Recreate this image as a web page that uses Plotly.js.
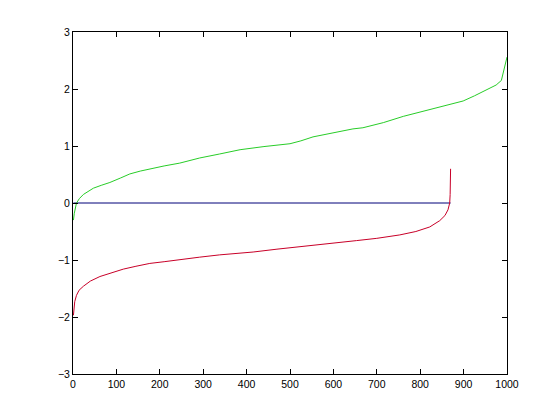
<!DOCTYPE html>
<html>
<head>
<meta charset="utf-8">
<script src="https://cdn.plot.ly/plotly-3.0.1.min.js"></script>
<style>html,body{margin:0;padding:0;background:#fff;}#chart{width:560px;height:420px;}</style>
</head>
<body>
<div id="chart"></div>
<script>
// Green series (upper sorted curve)
var greenX = [1, 3, 8, 15, 24, 35, 47, 65, 85, 110, 131, 155, 177, 210, 246, 292, 338, 385, 440, 500, 525, 553, 599, 645, 668, 715, 761, 800, 830, 870, 899, 925, 952, 975, 987, 993, 1000];
var greenY = [-0.30, -0.18, 0.00, 0.08, 0.15, 0.21, 0.26, 0.31, 0.36, 0.44, 0.51, 0.56, 0.60, 0.65, 0.70, 0.79, 0.86, 0.935, 0.99, 1.04, 1.09, 1.16, 1.23, 1.30, 1.32, 1.41, 1.52, 1.60, 1.66, 1.73, 1.79, 1.88, 1.98, 2.07, 2.15, 2.35, 2.56];
// Red series (lower sorted curve)
var redX = [1, 2, 4, 8, 14, 24, 40, 62, 90, 116, 145, 177, 210, 246, 292, 338, 415, 470, 523, 590, 653, 700, 753, 790, 822, 845, 857, 864, 868, 869, 870];
var redY = [-1.97, -1.90, -1.73, -1.62, -1.53, -1.46, -1.37, -1.29, -1.22, -1.16, -1.11, -1.06, -1.03, -0.99, -0.95, -0.91, -0.86, -0.81, -0.77, -0.71, -0.66, -0.62, -0.56, -0.50, -0.42, -0.31, -0.22, -0.12, 0.00, 0.15, 0.60];
// Blue reference line
var blueX = [1, 870];
var blueY = [0, 0];

var traces = [
  {x: blueX, y: blueY, mode: 'lines', line: {color: 'rgb(0,0,120)', width: 1}, hoverinfo: 'skip'},
  {x: greenX, y: greenY, mode: 'lines', line: {color: 'rgb(40,205,40)', width: 1}},
  {x: redX, y: redY, mode: 'lines', line: {color: 'rgb(200,0,40)', width: 1}}
];

var axisCommon = {
  showline: true, linecolor: '#000', linewidth: 1, mirror: 'ticks',
  ticks: 'inside', ticklen: 5, tickcolor: '#000', tickwidth: 1,
  showgrid: false, zeroline: false,
  tickfont: {family: 'Liberation Sans, Arial, sans-serif', size: 10.5, color: '#000'}
};

var layout = {
  width: 560, height: 420,
  margin: {l: 73, r: 53, t: 32, b: 46},
  paper_bgcolor: '#fff', plot_bgcolor: '#fff',
  showlegend: false,
  xaxis: Object.assign({}, axisCommon, {range: [0, 1000], tickvals: [0,100,200,300,400,500,600,700,800,900,1000]}),
  yaxis: Object.assign({}, axisCommon, {range: [-3, 3], tickvals: [-3,-2,-1,0,1,2,3]})
};

Plotly.newPlot('chart', traces, layout, {staticPlot: true, displayModeBar: false});
</script>
</body>
</html>
